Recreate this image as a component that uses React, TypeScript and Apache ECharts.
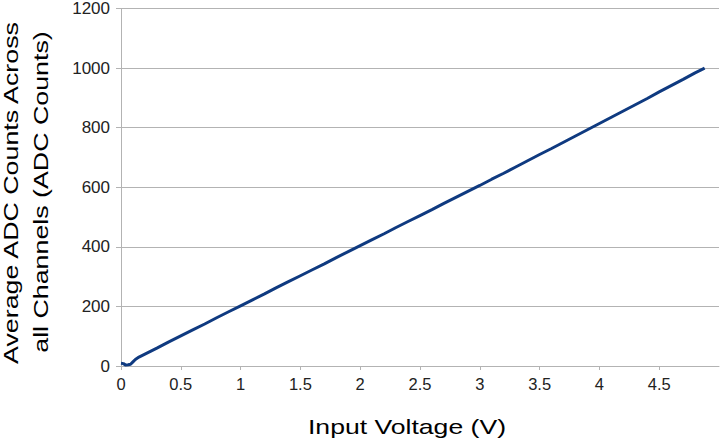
import React, { useEffect, useRef } from "react";
import * as echarts from "echarts";

const voltages = [0, 0.02, 0.04, 0.06, 0.08, 0.1, 0.12, 0.15, 0.2, 0.3, 0.4, 0.5, 0.6, 0.7, 0.8, 0.9, 1.0, 1.1, 1.2, 1.3, 1.4, 1.5, 1.6, 1.7, 1.8, 1.9, 2.0, 2.1, 2.2, 2.3, 2.4, 2.5, 2.6, 2.7, 2.8, 2.9, 3.0, 3.1, 3.2, 3.3, 3.4, 3.5, 3.6, 3.7, 3.8, 3.9, 4.0, 4.1, 4.2, 4.3, 4.4, 4.5, 4.6, 4.7, 4.8, 4.88];
const adcCounts = [9, 8, 3, 4, 6, 14, 22, 30, 40, 60, 81, 101, 121, 141, 162, 182, 202, 222, 242, 263, 283, 303, 323, 343, 364, 384, 404, 424, 444, 465, 485, 505, 525, 546, 566, 586, 606, 627, 647, 668, 689, 710, 730, 751, 772, 793, 814, 835, 856, 877, 898, 920, 941, 962, 984, 1000];

const xTitle = "Input Voltage (V)";
const yTitleLines = ["Average ADC Counts Across", "all Channels (ADC Counts)"];

export default function App() {
  const ref = useRef<HTMLDivElement>(null);
  useEffect(() => {
    if (!ref.current) return;
    const chart = echarts.init(ref.current, null, { renderer: "svg" });
    const font = "'Liberation Sans', Arial, sans-serif";
    const titleStyle = {
      fontFamily: font,
      fontSize: 20,
      fill: "#000",
      textAlign: "center",
      textVerticalAlign: "middle",
    };
    chart.setOption({
      animation: false,
      grid: { left: 121, right: 4, top: 6, bottom: 78, containLabel: false },
      xAxis: [
        {
          type: "value",
          min: 0,
          max: 5,
          interval: 0.5,
          axisLine: { show: true, lineStyle: { color: "#b3b3b3", width: 1 } },
          axisTick: { show: true, length: 4, lineStyle: { color: "#b3b3b3" } },
          axisLabel: {
            fontFamily: font,
            fontSize: 16.5,
            color: "#222",
            margin: 9,
            showMaxLabel: false,
          },
          splitLine: { show: false },
        },
        {
          type: "value",
          position: "top",
          min: 0,
          max: 5,
          axisLine: { show: false },
          axisTick: { show: false },
          axisLabel: { show: false },
          splitLine: { show: false },
        },
      ],
      yAxis: [
        {
          type: "value",
          min: 0,
          max: 1200,
          interval: 200,
          axisLine: { show: true, lineStyle: { color: "#b3b3b3", width: 1 } },
          axisTick: { show: true, length: 5, lineStyle: { color: "#b3b3b3" } },
          axisLabel: {
            fontFamily: font,
            fontSize: 17,
            color: "#222",
            margin: 11,
            formatter: (v: number) => String(v),
          },
          splitLine: { show: true, lineStyle: { color: "#b3b3b3", width: 1 } },
        },
        {
          type: "value",
          position: "right",
          min: 0,
          max: 1200,
          axisLine: { show: true, lineStyle: { color: "#b3b3b3", width: 1 } },
          axisTick: { show: false },
          axisLabel: { show: false },
          splitLine: { show: false },
        },
      ],
      graphic: [
        {
          type: "text",
          x: 407,
          y: 427,
          scaleX: 1.33,
          style: { ...titleStyle, text: xTitle },
        },
        {
          type: "text",
          x: 11,
          y: 193,
          rotation: Math.PI / 2,
          scaleX: 1.34,
          style: { ...titleStyle, text: yTitleLines[0] },
        },
        {
          type: "text",
          x: 41,
          y: 192,
          rotation: Math.PI / 2,
          scaleX: 1.34,
          style: { ...titleStyle, text: yTitleLines[1] },
        },
      ],
      series: [
        {
          type: "line",
          data: voltages.map((v, i) => [v, adcCounts[i]]),
          showSymbol: false,
          lineStyle: { color: "#0f3a80", width: 3 },
          itemStyle: { color: "#0f3a80" },
        },
      ],
    });
    return () => chart.dispose();
  }, []);
  return <div ref={ref} style={{ width: 723, height: 444, position: "absolute", left: 0, top: 0 }} />;
}
